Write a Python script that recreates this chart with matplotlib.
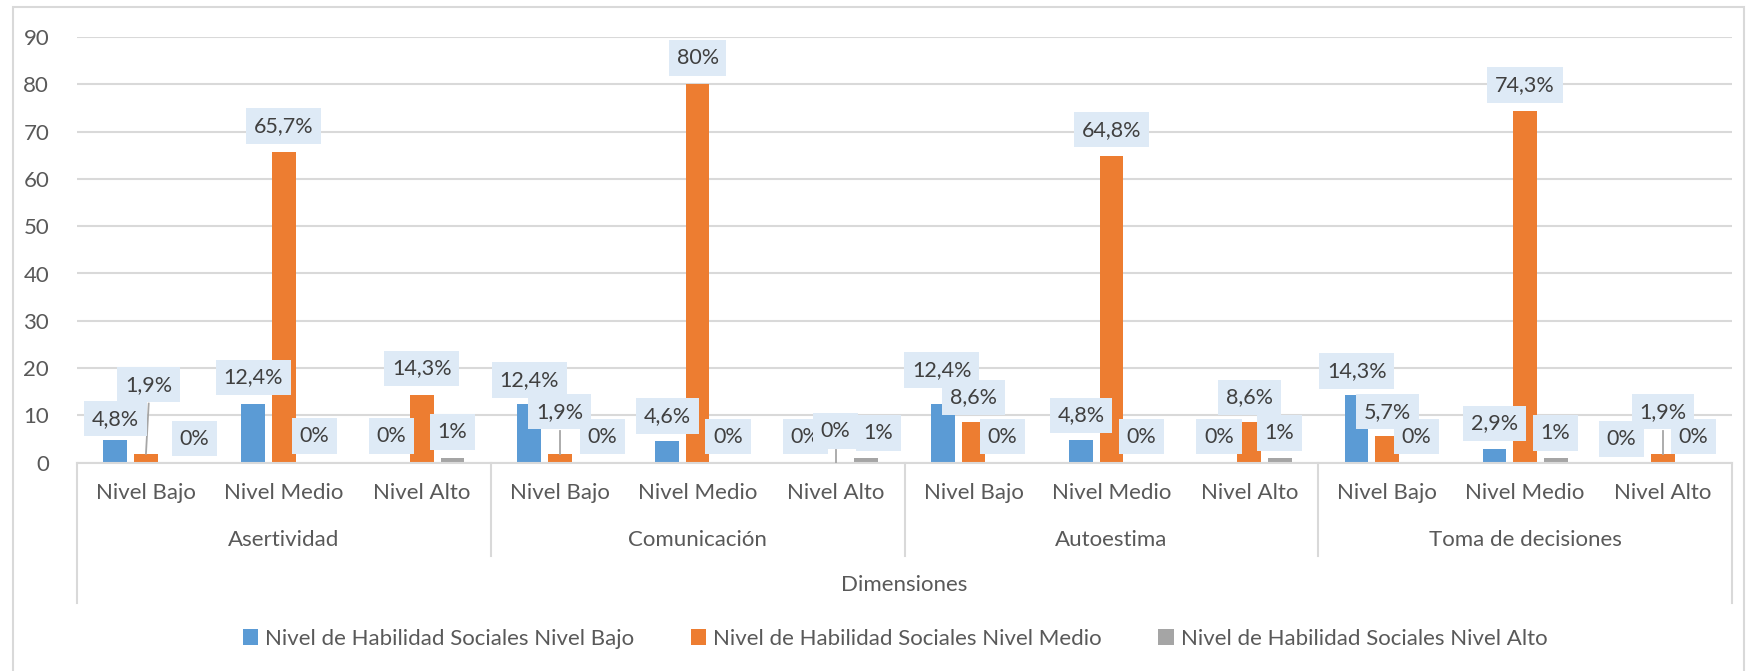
import matplotlib
matplotlib.use("Agg")
import matplotlib.pyplot as plt
import matplotlib.patches as patches
from matplotlib.transforms import blended_transform_factory

plt.rcParams['font.family'] = ['Lato', 'DejaVu Sans']

dimensions = ["Asertividad", "Comunicación", "Autoestima", "Toma de decisiones"]
levels = ["Nivel Bajo", "Nivel Medio", "Nivel Alto"]
series_names = ["Nivel de Habilidad Sociales Nivel Bajo",
                "Nivel de Habilidad Sociales Nivel Medio",
                "Nivel de Habilidad Sociales Nivel Alto"]

bajo = [4.8, 12.4, 0, 12.4, 4.6, 0, 12.4, 4.8, 0, 14.3, 2.9, 0]
medio = [1.9, 65.7, 14.3, 1.9, 80, 0, 8.6, 64.8, 8.6, 5.7, 74.3, 1.9]
alto = [0, 0, 1, 0, 0, 1, 0, 0, 1, 0, 1, 0]

colors = ["#5B9BD5", "#ED7D31", "#A5A5A5"]

# where Excel's (hand-moved) data labels sit: x shift in category units, y in data units
label_dx = [
    [-0.22, -0.22, -0.22, -0.22, -0.22, -0.22, -0.23, -0.22, -0.22, -0.22, -0.22, -0.30],
    [0.02, 0, 0, 0, 0, 0, 0, 0, 0, 0, 0, 0],
    [0.35, 0.22, 0.22, 0.31, 0.22, 0.31, 0.21, 0.22, 0.22, 0.21, 0.22, 0.22],
]
label_y = [
    [9.3, 18.0, 5.65, 17.5, 9.9, 5.5, 19.6, 10.0, 5.5, 19.4, 8.3, 5.0],
    [16.5, 71.2, 19.9, 10.8, 85.6, 6.7, 13.8, 70.4, 13.8, 10.8, 79.9, 10.8],
    [5.1, 5.65, 6.5, 5.5, 5.5, 6.3, 5.5, 5.5, 6.3, 5.5, 6.3, 5.5],
]
has_leaders = [False, True, False]


def fmt(v):
    if float(v).is_integer():
        return "%d%%" % v
    return ("%.1f%%" % v).replace(".", ",")


W, H = 1753, 671
fig = plt.figure(figsize=(W / 100, H / 100), dpi=100)
ax = fig.add_axes([77 / W, 1 - 462.7 / H, (1732 - 77) / W, 425.7 / H])

grid_c = "#D9D9D9"
text_c = "#595959"
fs = 16

n = len(bajo)
x = list(range(n))
bw = 0.172
offs = [-0.222, 0, 0.222]
all_series = [bajo, medio, alto]

for i, vals in enumerate(all_series):
    ax.bar([xi + offs[i] for xi in x], vals, width=bw, color=colors[i],
           label=series_names[i], zorder=2)

half_box = 4.0
for i, vals in enumerate(all_series):
    for j in range(n):
        lx = x[j] + label_dx[i][j]
        ly = label_y[i][j]
        if has_leaders[i] and ly - half_box - vals[j] > 2.5:
            ax.plot([lx, x[j] + offs[i]], [ly - half_box, vals[j]],
                    color="#A6A6A6", lw=1.3, zorder=3)
        ax.text(lx, ly, fmt(vals[j]), ha="center", va="center",
                fontsize=15.5, color="#404040", zorder=4 + i,
                bbox=dict(boxstyle="square,pad=0.36", fc="#DEEAF6", ec="none"))

ax.set_xlim(-0.5, n - 0.5)
ax.set_ylim(0, 90)
ax.set_yticks(range(0, 91, 10))
ax.tick_params(axis="y", length=0, labelsize=fs, labelcolor=text_c, pad=20)
ax.set_xticks([])
ax.yaxis.grid(True, color=grid_c, lw=1.5, zorder=0)
ax.set_axisbelow(True)
for s in ["left", "right", "top"]:
    ax.spines[s].set_visible(False)
ax.spines["bottom"].set_color(grid_c)
ax.spines["bottom"].set_linewidth(1.5)

# multi-level category axis
tr = blended_transform_factory(ax.transData, ax.transAxes)
for j in range(n):
    ax.text(x[j], -0.071, levels[j % 3], transform=tr, ha="center", va="center",
            fontsize=fs, color=text_c)
for g, name in enumerate(dimensions):
    ax.text(3 * g + 1, -0.182, name, transform=tr, ha="center", va="center",
            fontsize=fs, color=text_c)
for g in range(len(dimensions) + 1):
    bottom = -0.329 if g in (0, len(dimensions)) else -0.219
    ax.plot([3 * g - 0.5, 3 * g - 0.5], [0, bottom], transform=tr,
            color=grid_c, lw=1.5, clip_on=False)
ax.text(0.5, -0.287, "Dimensiones", transform=ax.transAxes, ha="center",
        va="center", fontsize=fs, color=text_c)

fig.legend(loc="center", bbox_to_anchor=(895 / W, 1 - 639 / H), ncol=3,
           frameon=False, fontsize=fs, labelcolor=text_c,
           handlelength=0.7, handleheight=0.7, handletextpad=0.3,
           columnspacing=2.55)

# chart area border
fig.patches.append(patches.Rectangle((13 / W, -0.02), (1744 - 13) / W, 1.02 - 7 / H,
                                     transform=fig.transFigure, fill=False,
                                     ec=grid_c, lw=1.5))

fig.savefig("out.png", dpi=100, facecolor="white")
